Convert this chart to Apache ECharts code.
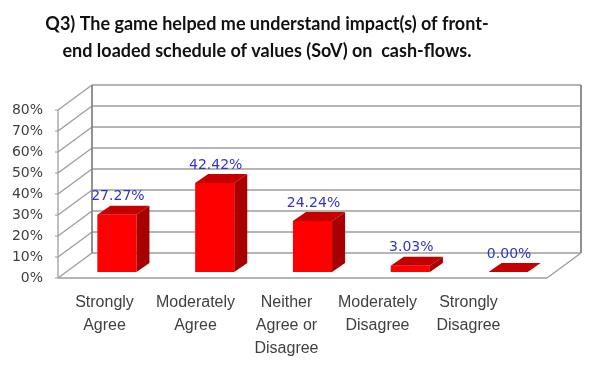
<!DOCTYPE html>
<html>
<head>
<meta charset="utf-8">
<script src="https://cdn.jsdelivr.net/npm/echarts@6/dist/echarts.min.js"></script>
<style>
  html, body { margin: 0; padding: 0; background: #ffffff; }
  #chart { width: 593px; height: 368px; }
</style>
</head>
<body>
<div id="chart"></div>
<script>
// Survey responses for Q3 (share of respondents, %)
const categories = ['Strongly\nAgree', 'Moderately\nAgree', 'Neither\nAgree or\nDisagree', 'Moderately\nDisagree', 'Strongly\nDisagree'];
const responsePct = [27.27, 42.42, 24.24, 3.03, 0.00];
const yTicks = [0, 10, 20, 30, 40, 50, 60, 70, 80];
const titleText = 'Q3) The game helped me understand impact(s) of front-\nend loaded schedule of values (SoV) on  cash-flows.';

// 3D box styling
const WALL_DEPTH = { dx: 34, dy: -25 };   // offset from front plane to back wall
const BAR_FRONT = { dx: 10, dy: -6 };     // bar front face sits slightly inside the floor
const BAR_DEPTH = { dx: 13, dy: -9 };     // bar thickness
const BAR_RATIO = 0.4;

const chart = echarts.init(document.getElementById('chart'), null, { renderer: 'canvas' });

function line(x1, y1, x2, y2, stroke, width) {
  return { type: 'line', shape: { x1, y1, x2, y2 }, style: { stroke, lineWidth: width } };
}

// Back wall, side wall and floor outline
function renderWalls(params, api) {
  const cs = params.coordSys;
  const yOf = v => api.coord([0, v])[1];
  const left = cs.x, right = cs.x + cs.width;
  const y0 = yOf(yTicks[0]), yTop = yOf(yTicks[yTicks.length - 1]);
  const { dx, dy } = WALL_DEPTH;
  const grid = '#9c9c9c', edge = '#858585';
  const children = [];
  yTicks.forEach(v => {
    const y = yOf(v);
    children.push(line(left, y, left + dx, y + dy, grid, 1.3));
    children.push(line(left + dx, y + dy, right + dx, y + dy, grid, 1.6));
    children.push(line(left - 3, y, left, y, grid, 1));
  });
  children.push(line(left, yTop, left, y0, grid, 1.3));
  children.push(line(left + dx, yTop + dy, left + dx, y0 + dy, edge, 1.8));
  children.push(line(right + dx, yTop + dy, right + dx, y0 + dy, edge, 1.8));
  children.push(line(left, y0, right, y0, grid, 1.3));
  children.push(line(right, y0, right + dx, y0 + dy, grid, 1.3));
  return { type: 'group', children };
}

// Extruded bars with value labels
function renderBar(params, api) {
  const idx = api.value(0);
  const val = api.value(1);
  const base = api.coord([idx, 0]);
  const topPt = api.coord([idx, val]);
  const band = api.size([1, 0])[0];
  const w = band * BAR_RATIO;
  const fx = base[0] + BAR_FRONT.dx - w / 2;
  const fb = base[1] + BAR_FRONT.dy;
  const ft = topPt[1] + BAR_FRONT.dy;
  const { dx, dy } = BAR_DEPTH;
  const children = [];
  if (fb - ft > 0.5) {
    children.push({ type: 'rect', shape: { x: fx, y: ft, width: w, height: fb - ft }, style: { fill: '#ff0000' } });
    children.push({ type: 'polygon', shape: { points: [[fx + w, ft], [fx + w + dx, ft + dy], [fx + w + dx, fb + dy], [fx + w, fb]] }, style: { fill: '#a80000' } });
  }
  children.push({ type: 'polygon', shape: { points: [[fx, ft], [fx + w, ft], [fx + w + dx, ft + dy], [fx + dx, ft + dy]] }, style: { fill: '#c40000' } });
  children.push({
    type: 'text',
    style: {
      x: fx + w / 2 + 1, y: ft + dy - 2,
      text: val.toFixed(2) + '%',
      align: 'center', verticalAlign: 'bottom',
      fill: '#3333cc', font: '14px "DejaVu Sans"'
    }
  });
  return { type: 'group', children };
}

chart.setOption({
  backgroundColor: '#ffffff',
  animation: false,
  title: {
    text: titleText,
    left: 262,
    top: 6,
    textAlign: 'center',
    textStyle: { fontFamily: 'Lato', fontWeight: 'bold', fontSize: 18, lineHeight: 27, color: '#111111' }
  },
  grid: [
    { left: 58, right: 46, top: 110, bottom: 90 },
    { left: 59, width: 455, top: 110, bottom: 90 }
  ],
  xAxis: [
    { type: 'category', gridIndex: 0, data: categories, axisLine: { show: false }, axisTick: { show: false }, axisLabel: { show: false } },
    {
      type: 'category', gridIndex: 1, data: categories,
      axisLine: { show: false }, axisTick: { show: false },
      axisLabel: { interval: 0, margin: 13, fontFamily: 'Liberation Sans', fontSize: 16, lineHeight: 23, color: '#404040' }
    }
  ],
  yAxis: [
    {
      type: 'value', gridIndex: 0, min: 0, max: 80, interval: 10,
      axisLine: { show: false }, axisTick: { show: false }, splitLine: { show: false },
      axisLabel: { formatter: '{value}%', margin: 15, fontFamily: 'DejaVu Sans', fontSize: 14, color: '#404040' }
    },
    { type: 'value', gridIndex: 1, min: 0, max: 80, show: false }
  ],
  series: [
    { type: 'custom', xAxisIndex: 0, yAxisIndex: 0, data: [[0, 0]], renderItem: renderWalls, z: 1, silent: true },
    {
      type: 'custom', xAxisIndex: 0, yAxisIndex: 0, z: 2,
      data: responsePct.map((v, i) => [i, v]),
      encode: { x: 0, y: 1 },
      renderItem: renderBar
    }
  ]
});
</script>
</body>
</html>
